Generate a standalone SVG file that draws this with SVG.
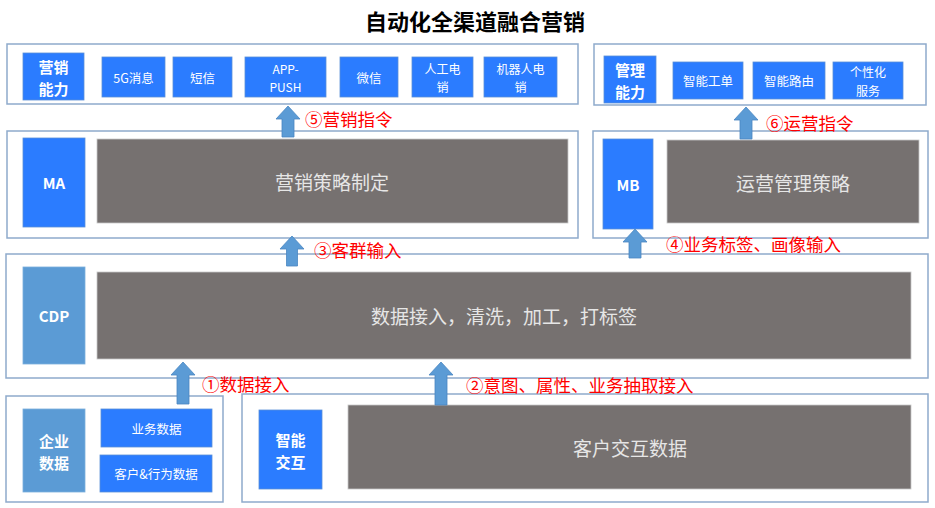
<svg xmlns="http://www.w3.org/2000/svg" width="935" height="508" viewBox="0 0 935 508">
<style>
text{font-family:"Noto Sans CJK SC","Liberation Sans",sans-serif;text-anchor:middle;dominant-baseline:central}
.frame{fill:#fff;stroke:#8eaacc;stroke-width:1.5}
.blue{fill:#2b7cff;stroke:#5a8fd8;stroke-width:0.8}
.steel{fill:#5b9bd5;stroke:#7aaedc;stroke-width:0.8}
.grey{fill:#767170;stroke:#c8c8c8;stroke-width:0.8}
.hd{fill:#fff;font-weight:bold;font-size:15px}
.sm{fill:#fff;font-size:12.5px}
.sm2{fill:#fff;font-size:12px}
.gt{fill:#e6e6e6;font-size:19px}
.lbl{fill:#ff0000;font-size:17.5px;text-anchor:start}
.arr{fill:#5b9bd5;stroke:#4a87c2;stroke-width:0.8}
</style>
<text x="475" y="20" style="font-size:22px;font-weight:bold;fill:#000">自动化全渠道融合营销</text>

<g id="marketing-capability">
<rect class="frame" x="7" y="44" width="571" height="60"/>
<rect class="blue" x="23" y="53" width="61" height="47"/>
<text class="hd" x="53.5" y="66">营销</text>
<text class="hd" x="53.5" y="88">能力</text>
<rect class="blue" x="102" y="57" width="63" height="40"/>
<text class="sm" x="133.5" y="77">5G消息</text>
<rect class="blue" x="173" y="57" width="59" height="40"/>
<text class="sm" x="202.5" y="77">短信</text>
<rect class="blue" x="245" y="57" width="81" height="40"/>
<text class="sm2" x="285.5" y="68">APP-</text>
<text class="sm2" x="285.5" y="86.5">PUSH</text>
<rect class="blue" x="340" y="57" width="58" height="40"/>
<text class="sm" x="369" y="77">微信</text>
<rect class="blue" x="412" y="57" width="61" height="40"/>
<text class="sm2" x="442.5" y="68">人工电</text>
<text class="sm2" x="442.5" y="86.5">销</text>
<rect class="blue" x="484" y="57" width="73" height="40"/>
<text class="sm2" x="520.5" y="68">机器人电</text>
<text class="sm2" x="520.5" y="86.5">销</text>
</g>

<g id="management-capability">
<rect class="frame" x="594" y="44" width="332" height="61"/>
<rect class="blue" x="604" y="56" width="52" height="47"/>
<text class="hd" x="630" y="69">管理</text>
<text class="hd" x="630" y="91">能力</text>
<rect class="blue" x="673" y="62" width="70" height="37"/>
<text class="sm" x="708" y="80.5">智能工单</text>
<rect class="blue" x="753" y="62" width="72" height="37"/>
<text class="sm" x="789" y="80.5">智能路由</text>
<rect class="blue" x="833" y="62" width="70" height="37"/>
<text class="sm2" x="868" y="71.5">个性化</text>
<text class="sm2" x="868" y="90">服务</text>
</g>

<g id="ma">
<rect class="frame" x="7" y="131" width="571" height="107"/>
<rect class="blue" x="23" y="138" width="62" height="89"/>
<text class="hd" x="54" y="182">MA</text>
<rect class="grey" x="97" y="139" width="471" height="84"/>
<text class="gt" x="332" y="181">营销策略制定</text>
</g>

<g id="mb">
<rect class="frame" x="593" y="131" width="335" height="107"/>
<rect class="blue" x="603" y="139" width="50" height="90"/>
<text class="hd" x="628" y="184">MB</text>
<rect class="grey" x="667" y="140" width="252" height="83"/>
<text class="gt" x="793" y="182">运营管理策略</text>
</g>

<g id="cdp">
<rect class="frame" x="6" y="254" width="922" height="124"/>
<rect class="steel" x="23" y="267" width="62" height="97"/>
<text class="hd" x="54" y="315">CDP</text>
<rect class="grey" x="97" y="272" width="814" height="87"/>
<text class="gt" x="504" y="315">数据接入，清洗，加工，打标签</text>
</g>

<g id="enterprise-data">
<rect class="frame" x="6" y="396" width="217" height="106"/>
<rect class="steel" x="23" y="409" width="62" height="83"/>
<text class="hd" x="54" y="440">企业</text>
<text class="hd" x="54" y="462">数据</text>
<rect class="blue" x="101" y="409" width="111" height="38"/>
<text class="sm" x="156.5" y="428">业务数据</text>
<rect class="blue" x="100" y="455" width="112" height="37"/>
<text class="sm" x="156" y="473.5">客户&amp;行为数据</text>
</g>

<g id="smart-interaction">
<rect class="frame" x="242" y="394" width="686" height="108"/>
<rect class="blue" x="259" y="410" width="63" height="79"/>
<text class="hd" x="290.5" y="439">智能</text>
<text class="hd" x="290.5" y="461">交互</text>
<rect class="grey" x="348" y="405" width="563" height="84"/>
<text class="gt" x="630" y="447">客户交互数据</text>
</g>

<g id="connectors">
<polygon class="arr" points="288,106 300,119 294,119 294,137 282,137 282,119 276,119"/>
<polygon class="arr" points="746,107 758,120 752,120 752,139 740,139 740,120 734,120"/>
<polygon class="arr" points="292,236 304,249 297.5,249 297.5,266 286.5,266 286.5,249 280,249"/>
<polygon class="arr" points="635,229 647,242 641,242 641,258 629,258 629,242 623,242"/>
<polygon class="arr" points="183,362 195,375 189,375 189,404 177,404 177,375 171,375"/>
<polygon class="arr" points="441,362 453,375 447,375 447,405 435,405 435,375 429,375"/>
<text class="lbl" x="305" y="118">⑤营销指令</text>
<text class="lbl" x="766" y="122">⑥运营指令</text>
<text class="lbl" x="314" y="249">③客群输入</text>
<text class="lbl" x="666" y="243">④业务标签、画像输入</text>
<text class="lbl" x="202" y="383">①数据接入</text>
<text class="lbl" x="466" y="384">②意图、属性、业务抽取接入</text>
</g>
</svg>
